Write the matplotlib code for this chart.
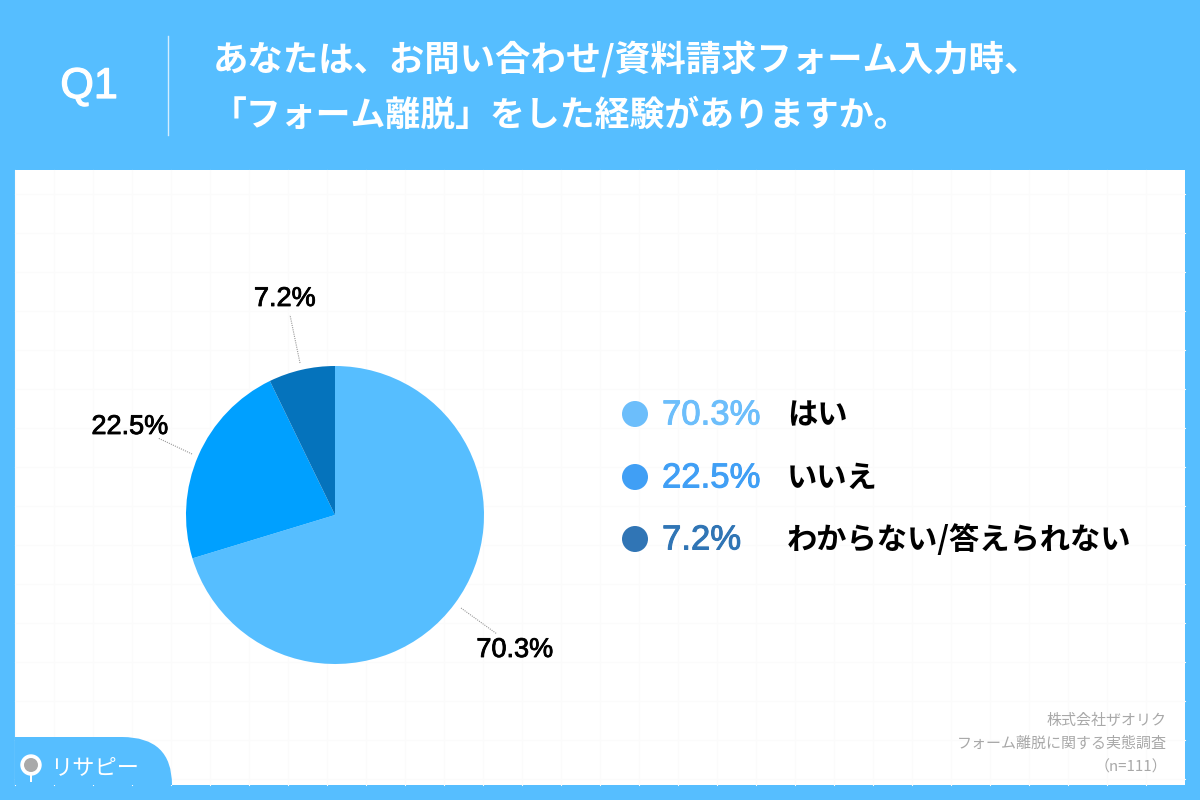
import matplotlib
matplotlib.use("Agg")
import matplotlib.pyplot as plt
import matplotlib.patheffects as pe
from matplotlib.patches import Rectangle, Circle, PathPatch, Wedge
from matplotlib.path import Path

CJK = ['Noto Sans CJK JP', 'DejaVu Sans']
LAT = ['Liberation Sans', 'Noto Sans CJK JP']
plt.rcParams['font.family'] = CJK

labels = ['はい', 'いいえ', 'わからない/答えられない']
values = [70.3, 22.5, 7.2]
pie_colors = ['#56BEFF', '#00A0FF', '#0573BC']
legend_colors = ['#6CBEFB', '#409FF5', '#3075B5']
title_lines = ['あなたは、お問い合わせ/資料請求フォーム入力時、', '「フォーム離脱」をした経験がありますか。']
source_lines = ['株式会社ザオリク', 'フォーム離脱に関する実態調査', '（n=111）']
BLUE = '#56BEFF'

fig = plt.figure(figsize=(12, 8), dpi=100, facecolor=BLUE)
bg = fig.add_axes([0, 0, 1, 1])
bg.set_xlim(0, 1200)
bg.set_ylim(800, 0)
bg.axis('off')


def heavier(color, w):
    return [pe.withStroke(linewidth=w, foreground=color)]


# white panel with faint grid
bg.add_patch(Rectangle((15, 170), 1170, 615, fc='white', ec='none', zorder=1))
for x in range(15, 1185, 39):
    bg.plot([x, x], [170, 785], color='#FBFBFB', lw=0.8, zorder=1.1)
for y in range(194, 785, 39):
    bg.plot([15, 1185], [y, y], color='#FBFBFB', lw=0.8, zorder=1.1)

# header
bg.text(89, 87, 'Q1', color='white', fontsize=31, family=LAT,
        ha='center', va='center', zorder=3, path_effects=heavier('white', 0.9))
bg.plot([167.5, 167.5], [36, 135], color='#D5EEFF', lw=1, zorder=3)
bg.text(213, 60, title_lines[0], color='white', fontsize=25.5, fontweight='bold',
        ha='left', va='center', zorder=3)
bg.text(212, 115, title_lines[1], color='white', fontsize=25.1, fontweight='bold',
        ha='left', va='center', zorder=3)

# pie
ax = fig.add_axes([186 / 1200, 136 / 800, 298 / 1200, 298 / 800])
ax.pie(values, colors=pie_colors, startangle=90, counterclock=False, radius=1,
       wedgeprops={'linewidth': 0})
ax.set_xlim(-1, 1)
ax.set_ylim(-1, 1)
ax.patch.set_alpha(0)

# leader lines and outside labels
leaders = [((461, 608), (497, 634)), ((192, 454), (158, 438)), ((300, 363), (290, 315))]
label_pos = [(515, 650), (130, 427), (285, 299)]
for v, (p0, p1), (tx, ty) in zip(values, leaders, label_pos):
    bg.plot([p0[0], p1[0]], [p0[1], p1[1]], color='#999999', lw=0.8, ls=(0, (1, 1)), zorder=3)
    bg.text(tx, ty, f'{v}%', color='black', fontsize=19.5, family=LAT,
            ha='center', va='center', zorder=3, path_effects=heavier('black', 0.6))

# legend
legend_y = [414, 477, 539]
for y, lab, v, c in zip(legend_y, labels, values, legend_colors):
    bg.add_patch(Circle((635, y), 13, fc=c, ec='none', zorder=3))
    bg.text(662, y + 1, f'{v}%', color=c, fontsize=25, family=LAT,
            ha='left', va='center', zorder=3, path_effects=heavier(c, 0.7))
    bg.text(787, y + 1, lab, color='black', fontsize=21.8, fontweight='bold',
            ha='left', va='center', zorder=3)

# source note
for y, line in zip([720, 743, 766], source_lines):
    bg.text(1167, y + 1, line, color='#A8A8A8', fontsize=10.8, ha='right', va='center', zorder=3)

# logo tab
verts = [(15, 737), (122, 737), (172, 737), (172, 785), (172, 785), (15, 785), (15, 737)]
codes = [Path.MOVETO, Path.LINETO, Path.CURVE3, Path.CURVE3, Path.LINETO, Path.LINETO, Path.CLOSEPOLY]
bg.add_patch(PathPatch(Path(verts, codes), fc=BLUE, ec='none', zorder=2))
bg.add_patch(Circle((31, 765), 10, fc='white', ec='white', lw=1, zorder=3))
bg.add_patch(Circle((31, 765), 7, fc='#A9A9A9', ec='none', zorder=3.1))
bg.add_patch(Rectangle((30, 775), 2, 7, fc='white', ec='none', zorder=3))
bg.text(50, 768, 'リサピー', color='white', fontsize=16, fontweight='regular',
        ha='left', va='center', zorder=3)

fig.savefig('out.png', dpi=100, facecolor=fig.get_facecolor())
